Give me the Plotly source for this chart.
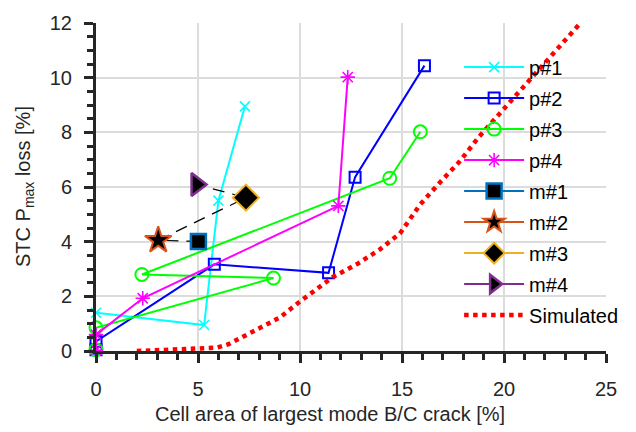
import plotly.graph_objects as go

# Measured panels: crack area (%) vs. STC Pmax loss (%)
p1_x = [0, 5.3, 6.0, 7.3]
p1_y = [1.4, 0.95, 5.5, 8.95]

p2_x = [0, 0, 5.8, 11.4, 12.7, 16.1]
p2_y = [0.05, 0.35, 3.17, 2.86, 6.36, 10.44]

p3_x = [0, 0, 8.7, 2.25, 14.4, 15.9]
p3_y = [0.05, 0.85, 2.67, 2.8, 6.32, 8.02]

p4_x = [0, 0, 2.29, 11.88, 12.34]
p4_y = [0.03, 0.6, 1.93, 5.31, 10.02]

# Single-point modules
m_names = ["m#1", "m#2", "m#3", "m#4"]
m_x = [5.02, 3.05, 7.35, 4.93]
m_y = [4.01, 4.05, 5.61, 6.09]

# Simulated relation
sim_x = [2, 3, 4, 5, 5.9, 6.5, 7.1, 8.0, 9.0, 10.0, 10.8, 11.6, 12.8, 13.9,
         14.9, 15.9, 16.9, 17.8, 18.8, 19.8, 20.6, 21.7, 22.7, 23.75]
sim_y = [0, 0.03, 0.06, 0.09, 0.12, 0.25, 0.49, 0.81, 1.22, 1.81, 2.23, 2.7,
         3.18, 3.71, 4.3, 5.37, 6.2, 6.91, 7.86, 8.7, 9.35, 10.25, 11.1, 12.0]

x_ticks = [0, 5, 10, 15, 20, 25]
y_ticks = [0, 2, 4, 6, 8, 10, 12]

FONT = "Liberation Sans, Arial, sans-serif"
TXT = "#262626"
FS = 20

fig = go.Figure()

p_series = [
    ("p#1", p1_x, p1_y, "#00FFFF", "x-thin-open", 10, 1.6),
    ("p#2", p2_x, p2_y, "#0000FF", "square-open", 11, 2),
    ("p#3", p3_x, p3_y, "#00FF00", "circle-open", 13, 2),
    ("p#4", p4_x, p4_y, "#FF00FF", "asterisk-open", 12, 1.6),
]
for name, xs, ys, col, sym, size, mlw in p_series:
    fig.add_trace(go.Scatter(
        x=xs, y=ys, name=name, mode="lines+markers", legendgroup=name,
        line=dict(color=col, width=2),
        marker=dict(symbol=sym, size=size, color=col,
                    line=dict(color=col, width=mlw)),
        cliponaxis=False,
    ))

# dashed connector between the single-point modules
fig.add_trace(go.Scatter(
    x=m_x, y=m_y, mode="lines", showlegend=False, hoverinfo="skip",
    line=dict(color="black", width=1.2, dash="12px,8px"),
    cliponaxis=False,
))

m_styles = [
    ("#0072BD", "square", 15, 2.5),
    ("#D95319", "star", 20, 2),
    ("#EDB120", "diamond", 20, 2),
    ("#7E2F8E", "triangle-right", 20, 2.5),
]
for name, xv, yv, (col, sym, size, lw) in zip(m_names, m_x, m_y, m_styles):
    fig.add_trace(go.Scatter(
        x=[xv], y=[yv], name=name, mode="lines+markers", legendgroup=name,
        line=dict(color=col, width=2),
        marker=dict(symbol=sym, size=size, color="black",
                    line=dict(color=col, width=lw)),
        cliponaxis=False,
    ))

fig.add_trace(go.Scatter(
    x=sim_x, y=sim_y, name="Simulated", mode="lines", legendgroup="sim",
    line=dict(color="#FF0000", width=4.5, dash="dot"),
    cliponaxis=False,
))

axis_common = dict(
    showline=True, linecolor=TXT, linewidth=3,
    ticks="outside", tickcolor=TXT, tickwidth=3, ticklen=9,
    showgrid=True, gridcolor="#DCDCDC", gridwidth=1.5,
    zeroline=False,
    tickfont=dict(family=FONT, size=FS, color=TXT),
)

fig.update_xaxes(
    range=[0, 25], tickvals=x_ticks, ticklabelstandoff=9,
    minor=dict(dtick=1, ticks="outside", ticklen=6, tickwidth=2.5,
               tickcolor=TXT, showgrid=False),
    **axis_common,
)
fig.update_yaxes(
    range=[0, 12], tickvals=y_ticks, ticklabelstandoff=8,
    minor=dict(dtick=0.5, ticks="outside", ticklen=6, tickwidth=2.5,
               tickcolor=TXT, showgrid=False),
    **axis_common,
)

fig.add_annotation(
    text="Cell area of largest mode B/C crack [%]",
    xref="paper", yref="paper", x=(330 - 96) / 510, y=0,
    xanchor="center", yanchor="middle", yshift=-63, showarrow=False,
    font=dict(family=FONT, size=FS, color=TXT),
)
fig.add_annotation(
    text="STC P<sub>max</sub> loss [%]",
    xref="paper", yref="paper", x=0, y=0.5,
    xanchor="center", yanchor="middle", xshift=-72, showarrow=False,
    textangle=-90,
    font=dict(family=FONT, size=FS, color=TXT),
)

fig.update_layout(
    width=636, height=432,
    margin=dict(l=96, r=30, t=14, b=81),
    plot_bgcolor="white", paper_bgcolor="white",
    showlegend=True,
    legend=dict(
        x=0.712, y=0.925, xanchor="left", yanchor="top",
        bgcolor="rgba(0,0,0,0)", borderwidth=0,
        font=dict(family=FONT, size=FS, color="black"),
        itemwidth=60, tracegroupgap=2, itemsizing="trace",
    ),
)

fig.write_html("out.html")
